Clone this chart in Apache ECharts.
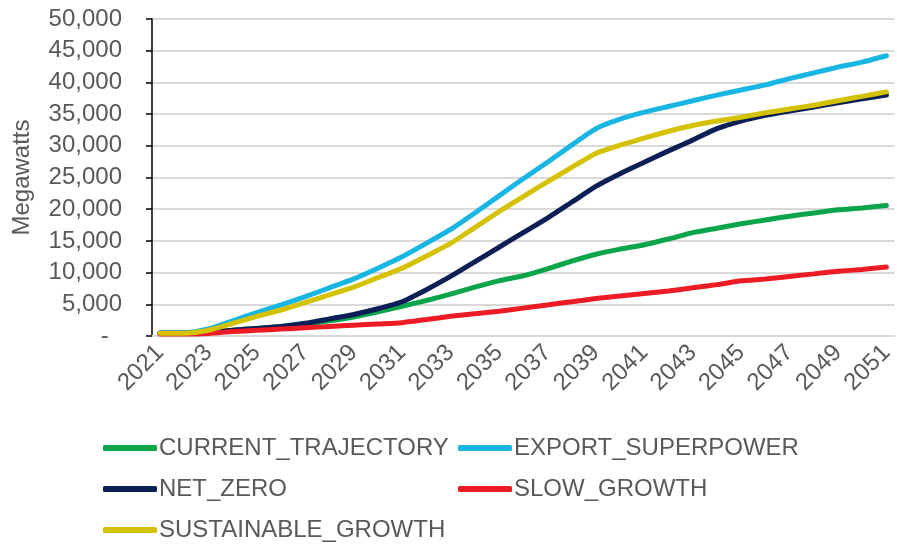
<!DOCTYPE html>
<html>
<head>
<meta charset="utf-8">
<script src="https://cdn.jsdelivr.net/npm/echarts@6/dist/echarts.min.js"></script>
<style>
  html, body { margin: 0; padding: 0; background: #fff; }
  #chart { width: 897px; height: 545px; }
</style>
</head>
<body>
<div id="chart"></div>
<script>
// 年份与标签
const years = [];
for (let y = 2021; y <= 2051; y++) years.push(y);
const xTickLabels = [2021, 2023, 2025, 2027, 2029, 2031, 2033, 2035, 2037, 2039, 2041, 2043, 2045, 2047, 2049, 2051];

// 各情景装机 (MW)
const currentTrajectory = [450, 450, 600, 900, 1200, 1500, 1900, 2400, 3000, 3800, 4700, 5600, 6600, 7700, 8700, 9500, 10600, 11800, 12900, 13700, 14400, 15300, 16300, 17000, 17700, 18300, 18900, 19400, 19900, 20200, 20600];
const exportSuperpower = [500, 500, 1100, 2400, 3700, 4900, 6200, 7600, 9000, 10700, 12500, 14600, 16800, 19400, 22100, 24800, 27400, 30100, 32700, 34200, 35300, 36200, 37100, 38000, 38800, 39600, 40600, 41500, 42400, 43200, 44200];
const netZero = [450, 450, 600, 900, 1200, 1500, 2000, 2700, 3400, 4300, 5400, 7300, 9400, 11700, 14000, 16300, 18600, 21100, 23600, 25600, 27400, 29200, 30900, 32700, 33900, 34800, 35500, 36100, 36800, 37400, 38000];
const slowGrowth = [300, 300, 400, 700, 900, 1100, 1300, 1500, 1700, 1900, 2100, 2600, 3100, 3500, 3900, 4400, 4900, 5400, 5900, 6300, 6700, 7100, 7600, 8100, 8700, 9000, 9400, 9800, 10200, 10500, 10900];
const sustainableGrowth = [450, 450, 900, 2000, 3100, 4100, 5300, 6500, 7700, 9200, 10700, 12600, 14600, 17100, 19600, 22000, 24300, 26600, 28800, 30100, 31200, 32300, 33200, 33900, 34500, 35200, 35800, 36400, 37100, 37800, 38500];

const seriesDefs = [
  { name: 'CURRENT_TRAJECTORY', data: currentTrajectory, color: '#0aa54b' },
  { name: 'EXPORT_SUPERPOWER', data: exportSuperpower, color: '#19b5e3' },
  { name: 'NET_ZERO', data: netZero, color: '#0b1e56' },
  { name: 'SLOW_GROWTH', data: slowGrowth, color: '#ed1c24' },
  { name: 'SUSTAINABLE_GROWTH', data: sustainableGrowth, color: '#d4c100' },
];

const FONT = '"Liberation Sans", Arial, sans-serif';
const TEXT_COLOR = '#595959';

const legendBase = {
  orient: 'vertical',
  top: 436,
  height: 109,
  padding: 0,
  icon: 'roundRect',
  itemWidth: 54,
  itemHeight: 6,
  itemGap: 17,
  textStyle: { fontFamily: FONT, fontSize: 24, color: TEXT_COLOR, lineHeight: 24, padding: [0, 0, 0, -3] },
};

const option = {
  animation: false,
  backgroundColor: '#fff',
  grid: { left: 152, right: 1, top: 19, bottom: 209, containLabel: false },
  legend: [
    Object.assign({}, legendBase, { left: 103, data: ['CURRENT_TRAJECTORY', 'NET_ZERO', 'SUSTAINABLE_GROWTH'] }),
    Object.assign({}, legendBase, { left: 458, data: ['EXPORT_SUPERPOWER', 'SLOW_GROWTH'] }),
  ],
  xAxis: {
    type: 'value',
    min: 2020.67,
    max: 2051.33,
    axisLine: { show: true, onZero: false, lineStyle: { color: '#d9d9d9', width: 2 } },
    axisTick: { show: false },
    splitLine: { show: false },
    axisLabel: {
      customValues: xTickLabels,
      rotate: 45,
      margin: 13,
      fontFamily: FONT,
      fontSize: 24,
      color: TEXT_COLOR,
      formatter: v => String(v),
    },
  },
  yAxis: {
    type: 'value',
    min: 0,
    max: 50000,
    interval: 5000,
    name: 'Megawatts',
    nameLocation: 'middle',
    nameRotate: 90,
    nameGap: 118,
    nameTextStyle: { fontFamily: FONT, fontSize: 24, color: TEXT_COLOR },
    axisLine: { show: true, lineStyle: { color: '#000', width: 1.5 } },
    axisTick: { show: true, length: 6, lineStyle: { color: '#000', width: 1.5 } },
    splitLine: { show: true, lineStyle: { color: '#d9d9d9', width: 2 } },
    axisLabel: {
      margin: 30,
      fontFamily: FONT,
      fontSize: 24,
      color: TEXT_COLOR,
      formatter: v => (v === 0 ? '-  ' : v.toLocaleString('en-US')),
    },
  },
  series: seriesDefs.map(s => ({
    name: s.name,
    type: 'line',
    data: years.map((y, i) => [y, s.data[i]]),
    showSymbol: false,
    symbol: 'none',
    smooth: 0.2,
    color: s.color,
    lineStyle: { color: s.color, width: 5, cap: 'round' },
  })),
};

const chart = echarts.init(document.getElementById('chart'));
chart.setOption(option);
</script>
</body>
</html>
